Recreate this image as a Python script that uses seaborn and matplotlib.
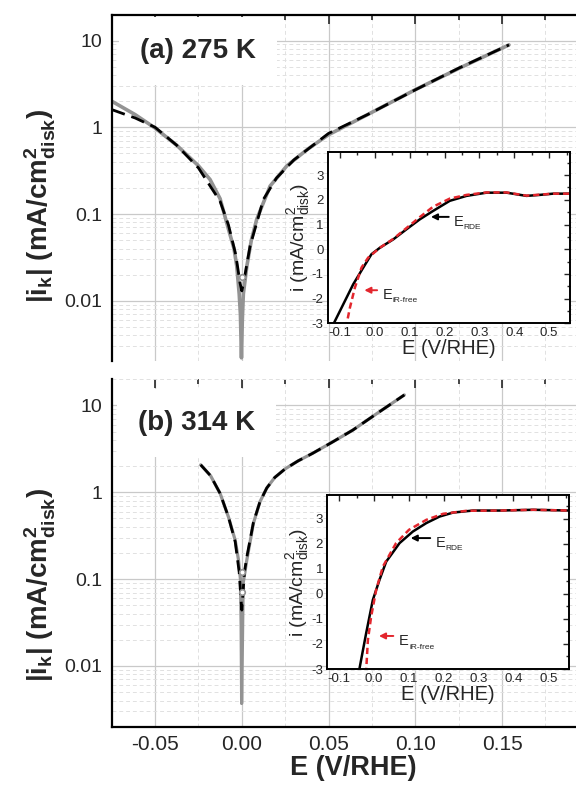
import matplotlib
matplotlib.use("Agg")
import matplotlib.pyplot as plt
import matplotlib.ticker as mticker
import seaborn as sns

# ---- panel (a) 275 K : |i_k| vs E (measured = grey, fit = dashed black)
e_a_exp = [-0.075, -0.0615, -0.05, -0.0375, -0.025, -0.0183, -0.0125, -0.0077,
           -0.0045, -0.0029, -0.0015, -0.0008, -0.0002, 0.0003, 0.0009, 0.0029,
           0.0055, 0.0086, 0.0163, 0.026, 0.038, 0.05, 0.0725, 0.1, 0.1254, 0.154]
ik_a_exp = [2.0, 1.4, 0.98, 0.62, 0.36, 0.25, 0.15, 0.067,
            0.04, 0.025, 0.012, 0.007, 0.0022, 0.006, 0.012, 0.025,
            0.05, 0.087, 0.21, 0.36, 0.56, 0.82, 1.4, 2.71, 4.8, 8.9]
e_a_fit = [-0.075, -0.0615, -0.05, -0.0375, -0.025, -0.0125, -0.0077, -0.0035,
           -0.001, 0.0, 0.001, 0.0048, 0.0125, 0.02, 0.03, 0.05, 0.0725, 0.1,
           0.125, 0.154]
ik_a_fit = [1.6, 1.28, 1.0, 0.62, 0.34, 0.14, 0.075, 0.034,
            0.016, 0.013, 0.016, 0.043, 0.148, 0.26, 0.42, 0.85, 1.4, 2.7,
            4.8, 8.9]
e_a_open = [0.0]
ik_a_open = [0.019]

# ---- inset (a): i vs E, RDE (black) and iR-free (red dashed)
e_ins_a_rde = [-0.125, -0.119, -0.0905, -0.062, -0.033, -0.0095, 0.0146, 0.053,
               0.091, 0.129, 0.167, 0.215, 0.263, 0.32, 0.378, 0.435, 0.473,
               0.511, 0.56]
i_ins_a_rde = [-3.2, -3.04, -2.23, -1.42, -0.74, -0.2, 0.06, 0.4,
               0.81, 1.21, 1.55, 1.96, 2.16, 2.29, 2.29, 2.16, 2.2,
               2.25, 2.25]
e_ins_a_irf = [-0.083, -0.081, -0.0713, -0.057, -0.038, -0.019, 0.0146, 0.053,
               0.091, 0.129, 0.167, 0.215, 0.263, 0.32, 0.378, 0.435, 0.473,
               0.511, 0.56]
i_ins_a_irf = [-3.2, -3.04, -2.36, -1.55, -0.74, -0.34, 0.06, 0.42,
               0.86, 1.3, 1.72, 2.05, 2.2, 2.3, 2.3, 2.17, 2.21,
               2.25, 2.25]

# ---- panel (b) 314 K
e_b_exp = [-0.0237, -0.018, -0.0125, -0.0077, -0.0038, -0.0019, -0.0008, -0.0004,
           -0.0001, 0.0002, 0.0008, 0.0029, 0.0067, 0.0105, 0.0144, 0.019,
           0.025, 0.0325, 0.0407, 0.052, 0.064, 0.078, 0.0937]
ik_b_exp = [2.07, 1.55, 0.97, 0.52, 0.28, 0.166, 0.1, 0.03,
            0.0037, 0.01, 0.09, 0.166, 0.44, 0.78, 1.12, 1.48,
            1.86, 2.3, 2.8, 3.76, 5.2, 8.1, 13.2]
e_b_fit = [-0.0237, -0.018, -0.0125, -0.0077, -0.0038, -0.0015, -0.0005, 0.0,
           0.0005, 0.0015, 0.0029, 0.0067, 0.0105, 0.0144, 0.019, 0.025, 0.0325,
           0.0407, 0.052, 0.064, 0.078, 0.0937]
ik_b_fit = [2.07, 1.55, 0.97, 0.52, 0.27, 0.12, 0.06, 0.044,
            0.06, 0.12, 0.18, 0.45, 0.78, 1.12, 1.48, 1.86, 2.3,
            2.8, 3.76, 5.2, 8.1, 13.2]
e_b_open = [-0.0001, 0.0001]
ik_b_open = [0.12, 0.072]

# ---- inset (b)
e_ins_b_rde = [-0.046, -0.042, -0.023, -0.0038, 0.0153, 0.0346, 0.073, 0.111,
               0.15, 0.188, 0.227, 0.284, 0.36, 0.457, 0.561]
i_ins_b_rde = [-3.2, -2.97, -1.57, -0.24, 0.56, 1.29, 2.03, 2.49,
               2.83, 3.09, 3.25, 3.33, 3.33, 3.36, 3.33]
e_ins_b_irf = [-0.0235, -0.018, -0.0087, 0.0058, 0.025, 0.063, 0.1, 0.15,
               0.198, 0.265, 0.36, 0.457, 0.561]
i_ins_b_irf = [-3.2, -1.84, -0.91, 0.16, 1.09, 2.03, 2.56, 2.96,
               3.2, 3.32, 3.33, 3.36, 3.33]

# ticks / labels
log_ticks = [0.01, 0.1, 1, 10]
log_labels = ["0.01", "0.1", "1", "10"]
main_xticks = [-0.05, 0.0, 0.05, 0.10, 0.15]
main_xlabels = ["-0.05", "0.00", "0.05", "0.10", "0.15"]
ins_xticks = [-0.1, 0.0, 0.1, 0.2, 0.3, 0.4, 0.5]
ins_xlabels = ["-0.1", "0.0", "0.1", "0.2", "0.3", "0.4", "0.5"]
ins_yticks = [-3, -2, -1, 0, 1, 2, 3]
ins_ylabels = ["-3", "-2", "-1", "0", "1", "2", "3"]

sns.set_style("white")
plt.rcParams["font.family"] = ["Liberation Sans", "DejaVu Sans"]
plt.rcParams["mathtext.default"] = "regular"
plt.rcParams["axes.unicode_minus"] = False

GREY = "#939393"
RED = "#e3262d"
main_ylabel = "|i$_k$| (mA/cm$^2_{disk}$)"


def style_main(ax, ylim):
    ax.set_yscale("log")
    ax.set_xlim(-0.075, 0.203)
    ax.set_ylim(*ylim)
    ax.set_xticks(main_xticks)
    ax.set_xticklabels(main_xlabels)
    ax.xaxis.set_minor_locator(mticker.MultipleLocator(0.025))
    ax.set_yticks(log_ticks)
    ax.set_yticklabels(log_labels)
    ax.yaxis.set_minor_locator(mticker.LogLocator(base=10, subs=range(2, 10)))
    ax.yaxis.set_minor_formatter(mticker.NullFormatter())
    ax.set_axisbelow(True)
    ax.grid(which="major", color="#c9c9c9", lw=0.9)
    ax.grid(which="minor", color="#e1e1e1", lw=0.7, ls=(0, (4, 3)))
    for s in ax.spines.values():
        s.set_linewidth(1.6)
        s.set_color("black")
    ax.spines["right"].set_visible(False)
    ax.tick_params(which="both", direction="in", top=True, right=False,
                   width=1.2, pad=7)
    ax.tick_params(axis="x", labelsize=15, pad=6)
    ax.tick_params(axis="y", labelsize=14)
    ax.tick_params(which="major", length=6.5)
    ax.tick_params(which="minor", length=3.5)


def style_inset(ax):
    ax.set_xlim(-0.135, 0.56)
    ax.set_ylim(-3, 3.95)
    ax.set_xticks(ins_xticks)
    ax.set_xticklabels(ins_xlabels)
    ax.set_yticks(ins_yticks)
    ax.set_yticklabels(ins_ylabels)
    ax.xaxis.set_minor_locator(mticker.MultipleLocator(0.05))
    ax.yaxis.set_minor_locator(mticker.MultipleLocator(0.5))
    for s in ax.spines.values():
        s.set_linewidth(1.4)
        s.set_color("black")
    ax.tick_params(which="both", direction="in", top=True, right=True,
                   width=1.0, labelsize=9.5, pad=3)
    ax.tick_params(which="major", length=4)
    ax.tick_params(which="minor", length=2.5)
    ax.set_xlabel("E (V/RHE)", fontsize=14.5, labelpad=0)
    ax.set_ylabel("i (mA/cm$^2_{disk}$)", fontsize=14, labelpad=0)
    ax.grid(False)


def label_arrow(ax, head, tail, color, text_xy, sub):
    ax.annotate("", xy=head, xytext=tail,
                arrowprops=dict(arrowstyle="-|>", color=color, lw=1.4,
                                mutation_scale=9))
    ax.text(text_xy[0], text_xy[1], "E", fontsize=10.5, va="center", ha="left")
    ax.annotate(sub, xy=text_xy, xytext=(7.5, -4), textcoords="offset points",
                fontsize=6, va="center", ha="left")


fig = plt.figure(figsize=(5.76, 7.88), dpi=100)

# ---------------- panel (a)
ax_a = fig.add_axes([0.1939, 0.5423, 0.8373, 0.4387])
sns.lineplot(x=e_a_exp, y=ik_a_exp, ax=ax_a, color=GREY, lw=2.6)
sns.lineplot(x=e_a_fit, y=ik_a_fit, ax=ax_a, color="black", lw=2.0,
             linestyle=(0, (5, 2.5)))
ax_a.plot(e_a_open, ik_a_open, "o", mfc="white", mec=GREY, ms=4, mew=1.2)
style_main(ax_a, (0.00204, 19.7))
ax_a.spines["bottom"].set_visible(False)
ax_a.tick_params(which="both", bottom=False, labelbottom=False)
ax_a.set_ylabel(main_ylabel, fontsize=20, fontweight="bold")
ax_a.yaxis.set_label_coords(-0.112, 0.4475)
ax_a.text(0.0587, 0.896, "(a) 275 K", transform=ax_a.transAxes, fontsize=20,
          fontweight="bold", va="center", ha="left", zorder=4,
          bbox=dict(facecolor="white", edgecolor="none", boxstyle="square,pad=0.75"))

ins_a = fig.add_axes([0.569, 0.5897, 0.4207, 0.2178])
sns.lineplot(x=e_ins_a_rde, y=i_ins_a_rde, ax=ins_a, color="black", lw=1.8)
sns.lineplot(x=e_ins_a_irf, y=i_ins_a_irf, ax=ins_a, color=RED, lw=1.8,
             linestyle=(0, (2.5, 1.5)))
style_inset(ins_a)
label_arrow(ins_a, (0.153, 1.31), (0.22, 1.31), "black", (0.225, 1.12), "RDE")
label_arrow(ins_a, (-0.038, -1.66), (0.0146, -1.66), RED, (0.022, -1.86), "iR-free")

# ---------------- panel (b)
ax_b = fig.add_axes([0.1939, 0.0778, 0.8373, 0.4409])
sns.lineplot(x=e_b_exp, y=ik_b_exp, ax=ax_b, color=GREY, lw=2.3)
sns.lineplot(x=e_b_fit, y=ik_b_fit, ax=ax_b, color="black", lw=2.0,
             linestyle=(0, (5, 2.5)))
ax_b.plot(e_b_open, ik_b_open, "o", mfc="white", mec=GREY, ms=4, mew=1.2)
style_main(ax_b, (0.002, 20.0))
ax_b.spines["top"].set_visible(False)
ax_b.set_xlabel("E (V/RHE)", fontsize=19.5, fontweight="bold", labelpad=1)
ax_b.set_ylabel(main_ylabel, fontsize=20, fontweight="bold")
ax_b.yaxis.set_label_coords(-0.112, 0.408)
ax_b.text(0.0545, 0.874, "(b) 314 K", transform=ax_b.transAxes, fontsize=20,
          fontweight="bold", va="center", ha="left", zorder=4,
          bbox=dict(facecolor="white", edgecolor="none", boxstyle="square,pad=0.75"))

ins_b = fig.add_axes([0.568, 0.151, 0.420, 0.2208])
sns.lineplot(x=e_ins_b_rde, y=i_ins_b_rde, ax=ins_b, color="black", lw=1.8)
sns.lineplot(x=e_ins_b_irf, y=i_ins_b_irf, ax=ins_b, color=RED, lw=1.8,
             linestyle=(0, (2.5, 1.5)))
style_inset(ins_b)
label_arrow(ins_b, (0.097, 2.23), (0.169, 2.23), "black", (0.176, 2.03), "RDE")
label_arrow(ins_b, (0.0058, -1.68), (0.063, -1.68), RED, (0.071, -1.9), "iR-free")

fig.savefig("out.png", dpi=100)
